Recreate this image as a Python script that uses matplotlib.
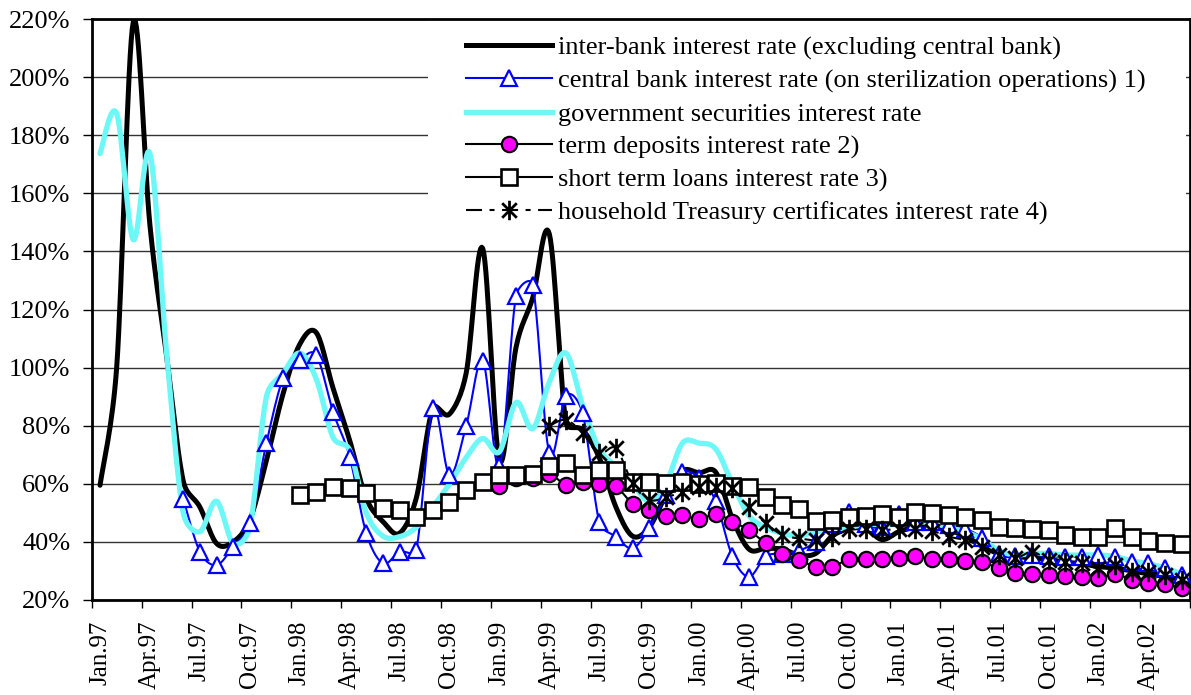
import numpy as np
import pandas as pd
import matplotlib

matplotlib.use("Agg")
import matplotlib.pyplot as plt
from matplotlib.lines import Line2D
from matplotlib.patches import Rectangle
from matplotlib.path import Path

nan = np.nan

# monthly categories, Jan.97 .. Jun.02
months = pd.date_range("1997-01-01", periods=66, freq="MS")
tick_labels = [
    "Jan.97", "Apr.97", "Jul.97", "Oct.97", "Jan.98", "Apr.98", "Jul.98", "Oct.98",
    "Jan.99", "Apr.99", "Jul.99", "Oct.99", "Jan.00", "Apr.00", "Jul.00", "Oct.00",
    "Jan.01", "Apr.01", "Jul.01", "Oct.01", "Jan.02", "Apr.02",
]

# interest rates, % p.a.
interbank = [
    59.5, 100, 219, 149, 104, 61, 52, 39.5, 40, 47.5, 68, 91,
    108, 112, 93, 75, 55, 47, 43, 55, 86, 84, 98, 141,
    68, 107, 124, 146, 81, 78.5, 69, 52, 42, 45, 56, 64.5,
    63.8, 64, 48, 37.5, 37.8, 37.5, 35.5, 36, 42, 44.5, 44.5, 40.8,
    43.5, 45, 45, 44, 42, 38.5, 36, 35, 34.5, 34, 33, 32.5,
    31.5, 31, 30, 29, 28, 27,
]
central_bank = [
    nan, nan, nan, nan, nan, 54.8, 36.6, 32, 38.4, 46.4, 74, 96.3,
    102.6, 104.3, 84.8, 69.3, 43, 32.6, 36.6, 37.2, 86, 63, 79.9, 102.4,
    66, 124.7, 128.5, 70.5, 90.3, 84.3, 47, 41.8, 37.8, 44.7, 56, 64,
    62, 54, 35, 28, 35, 36, 37, 40, 46, 50.4, 46, 45,
    49.6, 47, 47, 45.8, 44.5, 41.5, 36, 35, 35.5, 35, 34.9, 34.9,
    35.5, 34.7, 33.2, 32.6, 30.9, 28.6,
]
gov_securities = [
    173.7, 187.5, 144, 173.7, 105, 50, 43.5, 54, 39.5, 45, 90, 98,
    105, 96, 76, 71.6, 50, 42, 41.8, 45, 52, 60, 69, 75.6,
    71, 88, 79, 95, 105, 87, 72, 66, 60, 54, 60, 74,
    74, 72, 60, 49, 45, 43, 42, 43.5, 44, 45, 46, 46,
    46, 47, 46.5, 45, 43.5, 41, 37, 35.5, 36, 36, 35.5, 35.5,
    35.5, 35, 33.5, 32.5, 31, 29,
]
term_deposits = [
    nan, nan, nan, nan, nan, nan, nan, nan, nan, nan, nan, nan,
    nan, nan, nan, nan, nan, nan, nan, nan, nan, nan, nan, nan,
    59.3, 62, 62, 63.5, 59.6, 60.5, 60.1, 59.1, 53.2, 51, 48.8, 49.3,
    47.8, 49.6, 47, 44, 39.5, 35.8, 33.8, 31.5, 31.5, 34, 34, 34.2,
    34.6, 35, 34.2, 34.1, 33.5, 33, 31, 29.4, 28.9, 28.6, 28.3, 28,
    27.5, 28.9, 26.9, 25.7, 25.5, 24,
]
short_loans = [
    nan, nan, nan, nan, nan, nan, nan, nan, nan, nan, nan, nan,
    56.1, 57.3, 58.8, 58.4, 57, 51.5, 51, 48.7, 51, 53.8, 57.9, 60.5,
    63, 63, 63.4, 66.2, 67.3, 63, 64.7, 64.7, 60.7, 60.7, 60.2, 60.7,
    59.9, 60.2, 59.2, 59, 55.6, 52.7, 51.2, 47.3, 47.6, 48.7, 48.8, 49.5,
    48.5, 50.2, 49.8, 49.3, 48.6, 47.4, 45, 44.9, 44.3, 44.1, 42.4, 41.8,
    41.8, 44.7, 41.6, 40.4, 39.7, 39.2,
]
treasury_cert = [
    nan, nan, nan, nan, nan, nan, nan, nan, nan, nan, nan, nan,
    nan, nan, nan, nan, nan, nan, nan, nan, nan, nan, nan, nan,
    nan, nan, nan, 80, 82, 77.4, 70.5, 72.2, 60.2, 54.5, 55.3, 57.3,
    59, 59, 58.4, 52, 46.4, 42.4, 41.2, 40.6, 41.8, 44.3, 44.3, 44,
    44.5, 44.3, 43.8, 41.8, 40.6, 38.4, 35.5, 34.3, 36.6, 33.8, 33.2, 32.6,
    30.9, 32, 29.7, 29.7, 28.6, 26.9,
]

labels = [
    "inter-bank interest rate (excluding central bank)",
    "central bank interest rate (on sterilization operations) 1)",
    "government securities interest rate",
    "term deposits interest rate 2)",
    "short term loans interest rate 3)",
    "household Treasury certificates interest rate 4)",
]

# Excel-like asterisk: vertical bar plus an X
ASTERISK = Path(
    [(0, -1), (0, 1), (-0.75, -0.75), (0.75, 0.75), (-0.75, 0.75), (0.75, -0.75)],
    [Path.MOVETO, Path.LINETO] * 3,
)

W, H = 1191, 695
AX_BOX = [91.7 / W, 1 - 600 / H, (1190 - 91.7) / W, 581 / H]
XMIN, XMAX, YMIN, YMAX = -0.5, 65.5, 20, 220
# pixels per data unit, so the smoothing works in screen space
PX_X = (1190 - 91.7) / (XMAX - XMIN)
PX_Y = 581 / (YMAX - YMIN)


def smooth(values, steps=16):
    """Bezier smoothing through every point.

    Control arms are 1/6 of the neighbour chord, capped at half of the
    segment length so short segments between steep ones do not overshoot.
    """
    y = np.asarray(values, dtype=float)
    x = np.arange(len(y), dtype=float)
    idx = np.flatnonzero(~np.isnan(y))
    runs = np.split(idx, np.flatnonzero(np.diff(idx) > 1) + 1)
    out_x, out_y = [], []
    for run in runs:
        px, py = x[run] * PX_X, y[run] * PX_Y
        n = len(px)
        for k in range(n - 1):
            a = max(k - 1, 0)
            b = min(k + 2, n - 1)
            seg = np.hypot(px[k + 1] - px[k], py[k + 1] - py[k])
            ta = np.array([px[k + 1] - px[a], py[k + 1] - py[a]])
            tb = np.array([px[b] - px[k], py[b] - py[k]])
            fa = min(1 / 6, 0.5 * seg / max(np.hypot(*ta), 1e-9))
            fb = min(1 / 6, 0.5 * seg / max(np.hypot(*tb), 1e-9))
            c1x, c1y = px[k] + ta[0] * fa, py[k] + ta[1] * fa
            c2x, c2y = px[k + 1] - tb[0] * fb, py[k + 1] - tb[1] * fb
            t = np.linspace(0, 1, steps, endpoint=(k == n - 2))
            u = 1 - t
            bx = u**3 * px[k] + 3 * u**2 * t * c1x + 3 * u * t**2 * c2x + t**3 * px[k + 1]
            by = u**3 * py[k] + 3 * u**2 * t * c1y + 3 * u * t**2 * c2y + t**3 * py[k + 1]
            out_x += list(bx / PX_X)
            out_y += list(by / PX_Y)
        out_x.append(nan)
        out_y.append(nan)
    return np.array(out_x), np.array(out_y)


plt.rcParams.update(
    {
        "font.family": ["Liberation Serif", "DejaVu Serif"],
        "font.size": 19,
    }
)

fig = plt.figure(figsize=(W / 100, H / 100), dpi=100, facecolor="white")
ax = fig.add_axes(AX_BOX)

x = np.arange(len(months))

series = [
    dict(y=interbank, color="black", lw=3.6, ls="-", marker=None),
    dict(y=central_bank, color="#0000ff", lw=1.5, ls="-",
         marker="^", ms=11, mfc="white", mec="#0000ff", mew=1.6),
    dict(y=gov_securities, color="#6ef7f7", lw=3.8, ls="-", marker=None),
    dict(y=term_deposits, color="black", lw=1.5, ls="-",
         marker="o", ms=11, mfc="#ff00ff", mec="black", mew=1.6),
    dict(y=short_loans, color="black", lw=1.5, ls="-",
         marker="s", ms=11, mfc="white", mec="black", mew=1.9),
    dict(y=treasury_cert, color="black", lw=1.5, ls=(0, (7.7, 3.6, 2.4, 3.6)),
         marker=ASTERISK, ms=14, mfc="none", mec="black", mew=2.0),
]

handles = []
for k, s in enumerate(series):
    sx, sy = smooth(s["y"])
    ax.plot(sx, sy, color=s["color"], lw=s["lw"], ls=s["ls"],
            solid_capstyle="round", zorder=2 + k * 0.1)
    if s["marker"] is not None:
        ax.plot(x, s["y"], ls="none", marker=s["marker"], ms=s["ms"],
                mfc=s["mfc"], mec=s["mec"], mew=s["mew"], zorder=3 + k * 0.1)
        handles.append(Line2D([], [], color=s["color"], lw=s["lw"], ls=s["ls"],
                              marker=s["marker"], ms=s["ms"], mfc=s["mfc"],
                              mec=s["mec"], mew=s["mew"]))
    else:
        handles.append(Line2D([], [], color=s["color"], lw=s["lw"], ls=s["ls"]))

ax.set_xlim(XMIN, XMAX)
ax.set_ylim(YMIN, YMAX)

yt = np.arange(20, 221, 20)
ax.set_yticks(yt)
ax.set_yticklabels([f"{v}%" for v in yt])
ax.tick_params(axis="y", direction="out", length=6.5, width=1, pad=9, labelsize=19)

# tick marks between categories, labels centred on the quarter months
ax.set_xticks(np.arange(-0.5, len(months), 3))
ax.set_xticklabels([])
ax.set_xticks(x[::3], minor=True)
ax.set_xticklabels(tick_labels, minor=True, rotation=90, va="top", ha="center")
ax.tick_params(axis="x", which="major", direction="out", length=6, width=1)
ax.tick_params(axis="x", which="minor", length=0, pad=15, labelsize=18)

ax.set_axisbelow(True)
ax.grid(True, axis="y", color="#333333", lw=1.0)
ax.grid(False, axis="x")
for sp in ax.spines.values():
    sp.set_linewidth(2)
    sp.set_color("black")

# white legend area hides the gridlines behind it
ax.add_patch(Rectangle((0.306, 0.62), 0.690, 0.38, transform=ax.transAxes,
                       facecolor="white", edgecolor="none", zorder=1))

leg = ax.legend(
    handles, labels, loc="upper left", bbox_to_anchor=(0.3404, 0.9707),
    frameon=False, borderpad=0, borderaxespad=0, fontsize=19,
    handlelength=3.26, handletextpad=0.23, labelspacing=0.35,
)
leg.set_zorder(5)

fig.savefig("out.png", dpi=100, facecolor="white")
